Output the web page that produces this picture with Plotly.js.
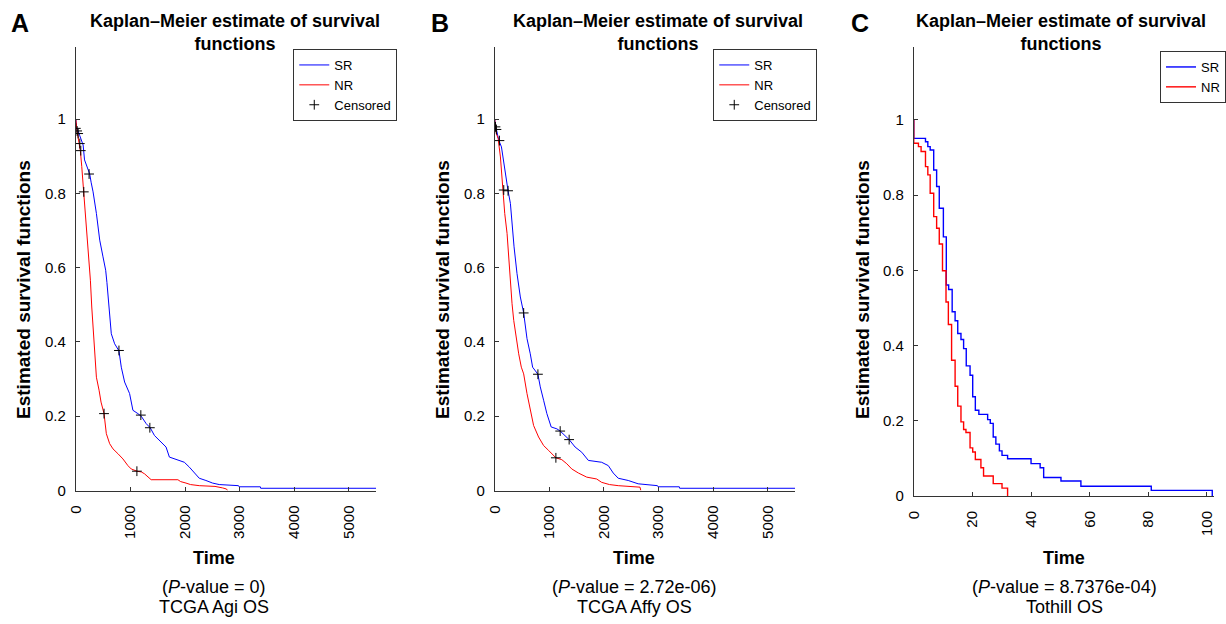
<!DOCTYPE html>
<html>
<head>
<meta charset="utf-8">
<script src="https://cdn.plot.ly/plotly-3.0.1.min.js"></script>
<style>html,body{margin:0;padding:0;background:#fff;}#chart{width:1226px;height:624px;}</style>
</head>
<body>
<div id="chart"></div>
<script>
// ---------- Panel A : TCGA Agi OS ----------
const aSrTime = [0,10,30,50,73,103,134,160,195,255,280,316,377,438,498,547,570,590,620,650,711,790,833,894,985,1046,1137,1198,1289,1362,1441,1562,1653,1714,1836,1988,2079,2170,2261,2383,2505,2626,2980,2991,3380,3386,5500];
const aSrSurv = [1,0.98,0.97,0.965,0.955,0.944,0.93,0.89,0.876,0.852,0.83,0.804,0.746,0.674,0.629,0.593,0.56,0.521,0.47,0.422,0.395,0.376,0.332,0.292,0.261,0.216,0.207,0.200,0.180,0.169,0.148,0.130,0.117,0.090,0.083,0.076,0.063,0.049,0.033,0.027,0.020,0.016,0.013,0.010,0.010,0.006,0.006];
const aNrTime = [0,10,24,61,85,109,146,182,207,243,267,292,316,340,377,426,462,517,540,559,620,681,772,863,954,1015,1119,1200,1258,1300,1380,1870,1920,2018,2100,2261,2550,2687,2760,2778];
const aNrSurv = [1,0.98,0.966,0.934,0.912,0.872,0.804,0.728,0.674,0.629,0.566,0.494,0.440,0.368,0.305,0.270,0.238,0.207,0.175,0.153,0.126,0.112,0.099,0.085,0.067,0.058,0.052,0.050,0.045,0.040,0.029,0.029,0.024,0.020,0.016,0.013,0.011,0.007,0.004,0];
const aCensTime = [0,24,43,73,91,146,243,517,790,1119,1191,1356];
const aCensSurv = [0.975,0.968,0.961,0.934,0.915,0.804,0.852,0.207,0.377,0.052,0.203,0.169];

// ---------- Panel B : TCGA Affy OS ----------
const bSrTime = [0,10,30,50,73,122,164,207,243,286,316,353,407,468,529,560,590,650,693,790,833,894,954,1033,1137,1198,1289,1362,1471,1593,1714,1957,2079,2170,2261,2444,2626,2980,2991,3380,3386,5500];
const bSrSurv = [1,0.98,0.972,0.96,0.943,0.925,0.880,0.836,0.807,0.773,0.714,0.656,0.584,0.521,0.478,0.44,0.409,0.368,0.332,0.313,0.279,0.243,0.207,0.171,0.166,0.160,0.146,0.137,0.117,0.103,0.081,0.076,0.067,0.047,0.033,0.027,0.018,0.013,0.010,0.010,0.006,0.006];
const bNrTime = [0,10,30,61,103,146,182,225,255,292,316,347,389,438,486,529,590,650,711,802,894,985,1119,1228,1319,1410,1532,1684,1866,1957,2100,2261,2565,2660,2675];
const bNrSurv = [1,0.975,0.96,0.948,0.898,0.809,0.746,0.692,0.620,0.548,0.503,0.458,0.413,0.368,0.332,0.314,0.261,0.216,0.175,0.144,0.121,0.108,0.088,0.083,0.072,0.058,0.047,0.036,0.031,0.022,0.016,0.013,0.011,0.009,0];
const bCensTime = [12,30,85,164,243,529,790,1119,1198,1362];
const bCensSurv = [0.979,0.972,0.942,0.809,0.807,0.478,0.313,0.088,0.160,0.137];

// ---------- Panel C : Tothill OS ----------
const cSrTime = [0,0,4.0,4.8,5.6,6.8,7.8,8.7,10.1,11.1,11.9,13.1,14.1,15.0,16.1,17.0,17.9,19.2,20.1,21.0,22.2,25.2,26.1,27.1,28.0,29.2,30.1,32.0,40.0,43.1,44.3,50.2,57.0,81.0,101.8];
const cSrSurv = [1,0.951,0.942,0.929,0.920,0.867,0.823,0.765,0.689,0.561,0.549,0.490,0.466,0.432,0.416,0.392,0.346,0.321,0.264,0.228,0.217,0.203,0.193,0.157,0.138,0.120,0.108,0.099,0.086,0.075,0.049,0.040,0.026,0.015,0];
const cNrTime = [0,0,1.6,2.5,4.0,4.8,5.6,6.8,7.8,8.7,9.8,11.0,11.8,12.9,14.1,15.0,16.1,17.0,17.8,19.2,20.1,21.0,22.9,23.8,27.1,30.1,32.0];
const cNrSurv = [1,0.938,0.929,0.916,0.876,0.854,0.805,0.743,0.712,0.670,0.599,0.516,0.456,0.361,0.292,0.239,0.197,0.177,0.169,0.128,0.117,0.097,0.075,0.053,0.033,0.021,0];

// ---------- Text ----------
const panelLetters = ['A','B','C'];
const panelTitle = 'Kaplan–Meier estimate of survival<br>functions';
const pValues = ['0','2.72e-06','8.7376e-04'];
const datasetNames = ['TCGA Agi OS','TCGA Affy OS','Tothill OS'];
const yTickVals = [0,0.2,0.4,0.6,0.8,1];
const yTickText = ['0','0.2','0.4','0.6','0.8','1'];
const xTickValsAB = [0,1000,2000,3000,4000,5000];
const xTickValsC = [0,20,40,60,80,100];

const W = 1226, H = 624;
const px = x => x / W;
const py = y => 1 - y / H;
const FONT = 'Liberation Sans, Arial, Helvetica, sans-serif';
const BLUE = '#0000ff', RED = '#ff0000';

function line(x, y, name, color, ax, leg, shape, width) {
  return {type:'scatter', mode:'lines', x:x, y:y, name:name, xaxis:'x'+ax, yaxis:'y'+ax,
    line:{color:color, width:width, shape:shape}, legend:leg, showlegend:true, hoverinfo:'skip'};
}
function cens(x, y, ax, leg) {
  return {type:'scatter', mode:'markers', x:x, y:y, name:'Censored', xaxis:'x'+ax, yaxis:'y'+ax,
    marker:{symbol:'cross-thin', size:7, color:'#000', line:{color:'#000', width:1}}, legend:leg, showlegend:true, hoverinfo:'skip'};
}

const data = [
  line(aSrTime, aSrSurv, 'SR', BLUE, '', 'legend', 'linear', 1),
  line(aNrTime, aNrSurv, 'NR', RED, '', 'legend', 'linear', 1),
  cens(aCensTime, aCensSurv, '', 'legend'),
  line(bSrTime, bSrSurv, 'SR', BLUE, '2', 'legend2', 'linear', 1),
  line(bNrTime, bNrSurv, 'NR', RED, '2', 'legend2', 'linear', 1),
  cens(bCensTime, bCensSurv, '2', 'legend2'),
  line(cSrTime, cSrSurv, 'SR', BLUE, '3', 'legend3', 'hv', 1.4),
  line(cNrTime, cNrSurv, 'NR', RED, '3', 'legend3', 'hv', 1.4)
];

function xax(domain, range, vals, anchor) {
  return {domain:domain, range:range, anchor:anchor, tickvals:vals, ticktext:vals.map(String),
    ticks:'inside', ticklen:4, tickcolor:'#333', showline:true, linecolor:'#333', linewidth:1,
    showgrid:false, zeroline:false, tickangle:-90, ticklabelstandoff:8,
    tickfont:{family:FONT, size:15, color:'#000'}, fixedrange:true};
}
function yax(domain, anchor) {
  return {domain:domain, range:[0,1.194], anchor:anchor, tickvals:yTickVals, ticktext:yTickText,
    ticks:'inside', ticklen:4, tickcolor:'#333', showline:true, linecolor:'#333', linewidth:1,
    showgrid:false, zeroline:false, ticklabelstandoff:6,
    tickfont:{family:FONT, size:15, color:'#000'}, fixedrange:true};
}
function legend(x, y) {
  return {x:px(x), y:py(y), xref:'paper', yref:'paper', xanchor:'left', yanchor:'top',
    bgcolor:'#fff', bordercolor:'#333', borderwidth:1, font:{family:FONT, size:13, color:'#000'},
    tracegroupgap:0, itemwidth:30};
}

const axisLeft = [76, 496, 916], axisRight = [377, 797, 1217];
const axisBottom = [490.5, 490.5, 496], axisTop = 47;
const titleCx = [235.5, 659.5, 1063.5];
const bottomCx = [215, 636, 1067];
const letterX = [20, 441, 862];
const ylabelX = [23, 443, 864];

const annotations = [];
for (let i = 0; i < 3; i++) {
  annotations.push({text:'<b>'+panelLetters[i]+'</b>', x:px(letterX[i]), y:py(23), xref:'paper', yref:'paper',
    xanchor:'center', yanchor:'middle', showarrow:false, font:{family:FONT, size:25, color:'#000'}});
  annotations.push({text:'<b>'+panelTitle+'</b>', x:px(titleCx[i]), y:py(32), xref:'paper', yref:'paper',
    xanchor:'center', yanchor:'middle', showarrow:false, font:{family:FONT, size:18, color:'#000'}});
  annotations.push({text:'<b>Estimated survival functions</b>', x:px(ylabelX[i]), y:py(289), xref:'paper', yref:'paper',
    xanchor:'center', yanchor:'middle', textangle:-90, showarrow:false, font:{family:FONT, size:19, color:'#000'}});
  annotations.push({text:'<b>Time</b>', x:px(bottomCx[i]), y:py(558), xref:'paper', yref:'paper',
    xanchor:'center', yanchor:'middle', showarrow:false, font:{family:FONT, size:18, color:'#000'}});
  annotations.push({text:'(<i>P</i>-value = '+pValues[i]+')', x:px(bottomCx[i]), y:py(587), xref:'paper', yref:'paper',
    xanchor:'center', yanchor:'middle', showarrow:false, font:{family:FONT, size:18, color:'#000'}});
  annotations.push({text:datasetNames[i], x:px(bottomCx[i]), y:py(607), xref:'paper', yref:'paper',
    xanchor:'center', yanchor:'middle', showarrow:false, font:{family:FONT, size:18, color:'#000'}});
}

const layout = {
  width:W, height:H, margin:{l:0, r:0, t:0, b:0}, paper_bgcolor:'#fff', plot_bgcolor:'#fff',
  font:{family:FONT, color:'#000'},
  xaxis: xax([px(axisLeft[0]), px(axisRight[0])], [0,5500], xTickValsAB, 'y'),
  yaxis: yax([py(axisBottom[0]), py(axisTop)], 'x'),
  xaxis2: xax([px(axisLeft[1]), px(axisRight[1])], [0,5500], xTickValsAB, 'y2'),
  yaxis2: yax([py(axisBottom[1]), py(axisTop)], 'x2'),
  xaxis3: xax([px(axisLeft[2]), px(axisRight[2])], [0,102.4], xTickValsC, 'y3'),
  yaxis3: yax([py(axisBottom[2]), py(axisTop)], 'x3'),
  legend: legend(294, 49),
  legend2: legend(715, 49),
  legend3: legend(1163, 51),
  annotations: annotations
};

Plotly.newPlot('chart', data, layout, {staticPlot:true, displayModeBar:false});
</script>
</body>
</html>
